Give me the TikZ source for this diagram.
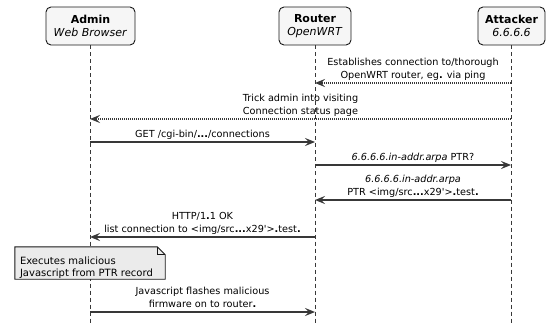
\documentclass[tikz,border=0pt]{standalone}
\usepackage{fontspec}
\setmainfont{DejaVu Sans}[Ligatures=TeXOff]
\usetikzlibrary{arrows.meta}
\definecolor{linec}{HTML}{383838}
\definecolor{boxborder}{HTML}{181818}
\definecolor{boxfill}{HTML}{F6F6F6}
\definecolor{notefill}{HTML}{EBEBEB}
\tikzset{
  pbox/.style={draw=boxborder, fill=boxfill, rounded corners=5pt, line width=0.9pt,
    align=center, font=\fontsize{11}{13}\selectfont, inner sep=0pt,
    minimum height=38pt},
  life/.style={draw=linec, line width=0.8pt, dash pattern=on 4pt off 3pt},
  msg/.style={draw=linec, line width=1.3pt, -{Stealth[length=10pt,width=8pt,inset=4pt]}},
  dmsg/.style={draw=linec, line width=1.1pt, dash pattern=on 1pt off 1pt,
    -{Stealth[length=10pt,width=8pt,inset=4pt]}},
  lbl/.style={font=\fontsize{9.7}{13}\selectfont, align=center, anchor=south,
    inner sep=0pt, text depth=0pt, yshift=4pt},
  notebox/.style={minimum width=150pt, minimum height=32pt, inner sep=0pt},
  notetext/.style={font=\fontsize{10}{12.5}\selectfont, align=left, anchor=west,
    inner sep=0pt, text depth=0pt},
}
\begin{document}
\begin{tikzpicture}[x=1pt, y=-1pt]
\useasboundingbox (0,0) rectangle (548,323);

% participants
\node[pbox, minimum width=89pt] (admin) at (90.5,26) {\textbf{Admin}\\\textit{Web Browser}};
\node[pbox, minimum width=72pt] (router) at (315,26) {\textbf{Router}\\\textit{OpenWRT}};
\node[pbox, minimum width=67pt] (attacker) at (511.5,26) {\textbf{Attacker}\\\textit{6.6.6.6}};

% lifeline ends
\coordinate (aEnd) at (90,323);
\coordinate (rEnd) at (315,323);
\coordinate (kEnd) at (511,323);
\coordinate (aTop) at (90,45.5);
\coordinate (rTop) at (315,45.5);
\coordinate (kTop) at (511,45.5);
\draw[life] (aTop) -- (aEnd);
\draw[life] (rTop) -- (rEnd);
\draw[life] (kTop) -- (kEnd);

% message anchor points
\coordinate (k1) at (511,83);  \coordinate (r1) at (315,83);
\coordinate (k2) at (511,119); \coordinate (a2) at (90,119);
\coordinate (a3) at (90,142);  \coordinate (r3) at (315,142);
\coordinate (r4) at (315,165); \coordinate (k4) at (511,165);
\coordinate (k5) at (511,200); \coordinate (r5) at (315,200);
\coordinate (r6) at (315,237); \coordinate (a6) at (90,237);
\coordinate (a8) at (90,312);  \coordinate (r8) at (315,312);

\draw[dmsg] (k1) -- (r1) node[midway, lbl] (l1) {Establishes connection to/thorough\\OpenWRT router, eg\textbf{.} via ping};
\draw[dmsg] (k2) -- (a2) node[midway, lbl] (l2) {Trick admin into visiting\\Connection status page};
\draw[msg] (a3) -- (r3) node[midway, lbl] (l3) {GET /cgi-bin/\textbf{...}/connections};
\draw[msg] (r4) -- (k4) node[midway, lbl] (l4) {\textit{6.6.6.6.in-addr.arpa} PTR?};
\draw[msg] (k5) -- (r5) node[midway, lbl] (l5) {\textit{6.6.6.6.in-addr.arpa}\\PTR <img/src\textbf{...}x29'>\textbf{.}test\textbf{.}};
\draw[msg] (r6) -- (a6) node[midway, lbl] (l6) {HTTP/1\textbf{.}1 OK\\list connection to <img/src\textbf{...}x29'>\textbf{.}test\textbf{.}};

% note
\node[notebox] (note) at (90,263) {};
\filldraw[fill=notefill, draw=boxborder, line width=0.9pt]
  (note.north west) -- ([xshift=-8pt]note.north east) -- ([yshift=-8pt]note.north east)
  -- (note.south east) -- (note.south west) -- cycle;
\draw[boxborder, line width=0.9pt] ([xshift=-8pt]note.north east) -- ([xshift=-8pt,yshift=-8pt]note.north east) -- ([yshift=-8pt]note.north east);
\node[notetext] (notetxt) at ([xshift=5pt,yshift=-3.5pt]note.west) {Executes malicious\\Javascript from PTR record};

\draw[msg] (a8) -- (r8) node[midway, lbl] (l8) {Javascript flashes malicious\\firmware on to router\textbf{.}};
\end{tikzpicture}
\end{document}
